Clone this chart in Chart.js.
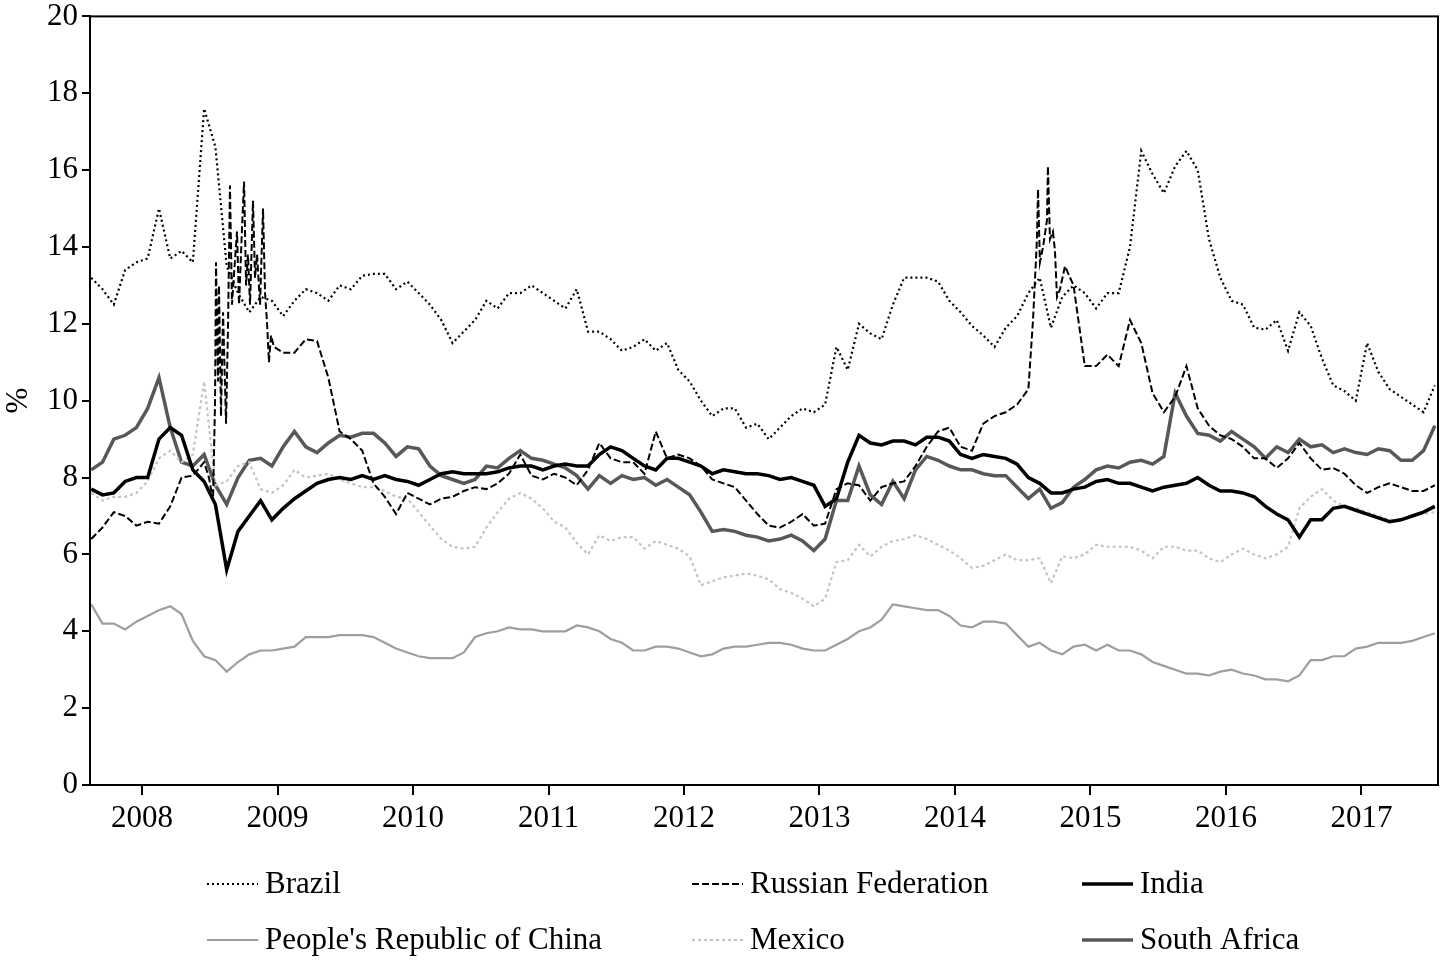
<!DOCTYPE html>
<html>
<head>
<meta charset="utf-8">
<script src="https://cdn.jsdelivr.net/npm/chart.js@4.4.1/dist/chart.umd.min.js"></script>
<style>
  html, body { margin: 0; padding: 0; background: #fff; }
  #wrap { width: 1444px; height: 963px; }
</style>
</head>
<body>
<div id="wrap"><canvas id="yields"></canvas></div>
<script>
// monthly observations, Aug 2007 .. Jul 2017 (one row = Aug..Jul)
const firstMonth = [2007, 8];
const monthCount = 120;

const brazil = [
    13.2, 12.9, 12.5, 13.4, 13.6, 13.7, 15.0, 13.7, 13.9, 13.6, 17.6, 16.6,
    13.5, 12.8, 12.3, 12.7, 12.6, 12.2, 12.6, 12.9, 12.8, 12.6, 13.0, 12.9,
    13.25, 13.3, 13.3, 12.9, 13.1, 12.8, 12.5, 12.1, 11.5, 11.8, 12.1, 12.6,
    12.4, 12.8, 12.8, 13.0, 12.8, 12.6, 12.4, 12.9, 11.8, 11.8, 11.6, 11.3,
    11.4, 11.6, 11.3, 11.5, 10.8, 10.5, 10.0, 9.6, 9.8, 9.8, 9.3, 9.4,
    9.0, 9.3, 9.6, 9.8, 9.7, 9.9, 11.4, 10.8, 12.0, 11.75, 11.6, 12.5,
    13.2, 13.2, 13.2, 13.1, 12.6, 12.3, 11.95, 11.7, 11.4, 11.9, 12.2, 12.8,
    13.2, 11.9, 12.7, 13.0, 12.8, 12.4, 12.8, 12.8, 14.0, 16.5, 15.9, 15.4,
    16.1, 16.5, 16.0, 14.2, 13.2, 12.6, 12.5, 11.9, 11.85, 12.1, 11.3, 12.3,
    11.95, 11.1, 10.4, 10.25, 10.0, 11.5, 10.75, 10.3, 10.1, 9.9, 9.7, 10.4
];

// null where the daily swings are given in russiaSpike* below
const russia = [
    6.4, 6.7, 7.1, 7.0, 6.75, 6.85, 6.8, 7.25, 8.0, 8.05, 8.4, null,
    null, null, null, null, null, 11.25, 11.25, 11.6, 11.55, 10.6, 9.2, 9.0,
    8.7, 7.85, 7.5, 7.05, 7.6, 7.45, 7.3, 7.45, 7.5, 7.65, 7.75, 7.7,
    7.85, 8.1, 8.6, 8.05, 7.95, 8.1, 8.0, 7.8, 8.2, 8.9, 8.5, 8.4,
    8.4, 8.1, 9.2, 8.5, 8.6, 8.5, 8.3, 7.95, 7.85, 7.75, 7.4, 7.05,
    6.75, 6.7, 6.85, 7.05, 6.75, 6.8, 7.7, 7.85, 7.8, 7.4, 7.75, 7.85,
    7.9, 8.3, 8.8, 9.2, 9.3, 8.8, 8.7, 9.4, 9.6, 9.7, 9.9, 10.3,
    null, null, null, 13.0, 10.9, 10.9, 11.2, 10.9, 12.1, 11.5, 10.2, 9.7,
    10.1, 10.9, 9.8, 9.35, 9.1, 9.0, 8.8, 8.5, 8.5, 8.25, 8.5, 8.9,
    8.5, 8.2, 8.25, 8.1, 7.8, 7.6, 7.75, 7.85, 7.75, 7.65, 7.65, 7.8
];
const russiaSpikeYears = [
    2008.494, 2008.524, 2008.539, 2008.546, 2008.561, 2008.568, 2008.583, 2008.598,
    2008.620, 2008.635, 2008.649, 2008.664, 2008.679, 2008.701, 2008.716, 2008.738,
    2008.753, 2008.768, 2008.782, 2008.797, 2008.819, 2008.834, 2008.849, 2008.871,
    2008.893, 2008.908, 2008.923, 2008.937, 2008.952, 2008.974,
    2014.576, 2014.605, 2014.613, 2014.627, 2014.650, 2014.679, 2014.686, 2014.701,
    2014.723, 2014.738, 2014.753, 2014.775, 2014.812
];
const russiaSpikeValues = [
    8.0, 7.4, 10.0, 13.6, 10.5, 13.0, 9.6, 12.3,
    9.4, 12.0, 15.6, 12.5, 13.3, 14.4, 12.5, 14.5,
    15.7, 13.0, 13.8, 12.5, 15.2, 13.2, 13.8, 12.5,
    15.0, 12.8, 12.0, 11.0, 11.7, 11.4,
    12.1, 14.2, 15.5, 13.6, 14.0, 14.7, 16.1, 14.2,
    14.4, 13.9, 12.7, 12.9, 13.5
];

const india = [
    7.7, 7.55, 7.6, 7.9, 8.0, 8.0, 9.0, 9.3, 9.1, 8.2, 7.9, 7.3,
    5.6, 6.6, 7.0, 7.4, 6.9, 7.2, 7.45, 7.65, 7.85, 7.95, 8.0, 7.95,
    8.05, 7.95, 8.05, 7.95, 7.9, 7.8, 7.95, 8.1, 8.15, 8.1, 8.1, 8.1,
    8.15, 8.25, 8.3, 8.3, 8.2, 8.3, 8.35, 8.3, 8.3, 8.6, 8.8, 8.7,
    8.5, 8.3, 8.2, 8.5, 8.5, 8.4, 8.3, 8.1, 8.2, 8.15, 8.1, 8.1,
    8.05, 7.95, 8.0, 7.9, 7.8, 7.25, 7.45, 8.4, 9.1, 8.9, 8.85, 8.95,
    8.95, 8.85, 9.05, 9.05, 8.95, 8.6, 8.5, 8.6, 8.55, 8.5, 8.35, 8.0,
    7.85, 7.6, 7.6, 7.7, 7.75, 7.9, 7.95, 7.85, 7.85, 7.75, 7.65, 7.75,
    7.8, 7.85, 8.0, 7.8, 7.65, 7.65, 7.6, 7.5, 7.25, 7.05, 6.9, 6.45,
    6.9, 6.9, 7.2, 7.25, 7.15, 7.05, 6.95, 6.85, 6.9, 7.0, 7.1, 7.25
];

const china = [
    4.7, 4.2, 4.2, 4.05, 4.25, 4.4, 4.55, 4.65, 4.45, 3.75, 3.35, 3.25,
    2.95, 3.2, 3.4, 3.5, 3.5, 3.55, 3.6, 3.85, 3.85, 3.85, 3.9, 3.9,
    3.9, 3.85, 3.7, 3.55, 3.45, 3.35, 3.3, 3.3, 3.3, 3.45, 3.85, 3.95,
    4.0, 4.1, 4.05, 4.05, 4.0, 4.0, 4.0, 4.15, 4.1, 4.0, 3.8, 3.7,
    3.5, 3.5, 3.6, 3.6, 3.55, 3.45, 3.35, 3.4, 3.55, 3.6, 3.6, 3.65,
    3.7, 3.7, 3.65, 3.55, 3.5, 3.5, 3.65, 3.8, 4.0, 4.1, 4.3, 4.7,
    4.65, 4.6, 4.55, 4.55, 4.4, 4.15, 4.1, 4.25, 4.25, 4.2, 3.9, 3.6,
    3.7, 3.5, 3.4, 3.6, 3.65, 3.5, 3.65, 3.5, 3.5, 3.4, 3.2, 3.1,
    3.0, 2.9, 2.9, 2.85, 2.95, 3.0, 2.9, 2.85, 2.75, 2.75, 2.7, 2.85,
    3.25, 3.25, 3.35, 3.35, 3.55, 3.6, 3.7, 3.7, 3.7, 3.75, 3.85, 3.95
];

const mexico = [
    7.6, 7.4, 7.5, 7.5, 7.6, 7.9, 8.5, 8.7, 8.4, 8.6, 10.5, 7.8,
    7.9, 8.3, 8.4, 7.7, 7.6, 7.8, 8.2, 8.0, 8.05, 8.1, 7.95, 7.85,
    7.75, 7.75, 7.65, 7.5, 7.45, 7.1, 6.75, 6.4, 6.2, 6.15, 6.2, 6.7,
    7.1, 7.45, 7.6, 7.45, 7.2, 6.85, 6.7, 6.3, 6.0, 6.5, 6.35, 6.45,
    6.45, 6.15, 6.35, 6.25, 6.15, 5.95, 5.2, 5.3, 5.4, 5.45, 5.5, 5.45,
    5.35, 5.1, 5.0, 4.85, 4.65, 4.85, 5.8, 5.85, 6.25, 5.95, 6.2, 6.35,
    6.4, 6.5, 6.4, 6.25, 6.1, 5.9, 5.65, 5.7, 5.85, 6.0, 5.85, 5.85,
    5.9, 5.25, 5.95, 5.9, 6.0, 6.25, 6.2, 6.2, 6.2, 6.1, 5.9, 6.2,
    6.2, 6.1, 6.1, 5.9, 5.8, 6.0, 6.15, 6.0, 5.9, 6.0, 6.2, 7.2,
    7.5, 7.7, 7.4, 7.25, 7.2, 7.1, 7.0, 6.9, 6.9, 7.0, 7.05, 7.1
];

const southAfrica = [
    8.2, 8.4, 9.0, 9.1, 9.3, 9.8, 10.6, 9.3, 8.4, 8.3, 8.6, 7.8,
    7.3, 8.0, 8.45, 8.5, 8.3, 8.8, 9.2, 8.8, 8.65, 8.9, 9.1, 9.05,
    9.15, 9.15, 8.9, 8.55, 8.8, 8.75, 8.3, 8.05, 7.95, 7.85, 7.95, 8.3,
    8.25, 8.5, 8.7, 8.5, 8.45, 8.35, 8.25, 8.05, 7.7, 8.05, 7.85, 8.05,
    7.95, 8.0, 7.8, 7.95, 7.75, 7.55, 7.1, 6.6, 6.65, 6.6, 6.5, 6.45,
    6.35, 6.4, 6.5, 6.35, 6.1, 6.4, 7.4, 7.4, 8.3, 7.55, 7.3, 7.9,
    7.45, 8.2, 8.55, 8.45, 8.3, 8.2, 8.2, 8.1, 8.05, 8.05, 7.75, 7.45,
    7.7, 7.2, 7.35, 7.75, 7.95, 8.2, 8.3, 8.25, 8.4, 8.45, 8.35, 8.55,
    10.2, 9.6, 9.15, 9.1, 8.95, 9.2, 9.0, 8.8, 8.5, 8.8, 8.65, 9.0,
    8.8, 8.85, 8.65, 8.75, 8.65, 8.6, 8.75, 8.7, 8.45, 8.45, 8.7, 9.35
];

const yTicks = [0, 2, 4, 6, 8, 10, 12, 14, 16, 18, 20];
const yearTicks = [2008, 2009, 2010, 2011, 2012, 2013, 2014, 2015, 2016, 2017];

// mid-month position of each observation, in decimal years
const monthX = [];
for (let i = 0; i < monthCount; i++) {
    const m = firstMonth[1] - 1 + i;
    monthX.push(firstMonth[0] + m / 12 + 1 / 24);
}

const toPoints = (values) => values
    .map((v, i) => ({ x: monthX[i], y: v }))
    .filter(p => p.y !== null);

const russiaPoints = toPoints(russia)
    .concat(russiaSpikeYears.map((x, i) => ({ x: x, y: russiaSpikeValues[i] })))
    .sort((a, b) => a.x - b.x);

const serif = '"Liberation Serif", "Times New Roman", serif';

const frame = {
    id: 'frame',
    afterDraw(chart) {
        const a = chart.chartArea;
        const ctx = chart.ctx;
        ctx.save();
        ctx.strokeStyle = '#000';
        ctx.lineWidth = 2;
        ctx.strokeRect(a.left, a.top, a.right - a.left, a.bottom - a.top);
        ctx.restore();
    }
};

// two rows of three, like the original figure
const gridLegend = {
    id: 'gridLegend',
    afterDraw(chart) {
        const ctx = chart.ctx;
        const cols = [207, 692, 1082];
        const rows = [884, 940];
        chart.data.datasets.forEach((ds, i) => {
            const x = cols[i % 3];
            const y = rows[Math.floor(i / 3)];
            ctx.save();
            ctx.strokeStyle = ds.borderColor;
            ctx.lineWidth = ds.borderWidth;
            ctx.setLineDash(ds.borderDash || []);
            ctx.beginPath();
            ctx.moveTo(x, y);
            ctx.lineTo(x + 51, y);
            ctx.stroke();
            ctx.setLineDash([]);
            ctx.fillStyle = '#000';
            ctx.font = '31px ' + serif;
            ctx.textBaseline = 'middle';
            ctx.fillText(ds.label, x + 58, y + 1);
            ctx.restore();
        });
    }
};

const line = (label, data, color, width, dash) => ({
    label: label,
    data: data,
    borderColor: color,
    borderWidth: width,
    borderDash: dash,
    pointRadius: 0,
    tension: 0,
    fill: false
});

new Chart(document.getElementById('yields'), {
    type: 'line',
    data: {
        datasets: [
            line('Brazil', toPoints(brazil), '#000', 2.2, [2, 3]),
            line('Russian Federation', russiaPoints, '#000', 2, [7, 3]),
            line('India', toPoints(india), '#000', 3.5, []),
            line("People's Republic of China", toPoints(china), '#9e9e9e', 2.2, []),
            line('Mexico', toPoints(mexico), '#c4c4c4', 2.2, [3, 3]),
            line('South Africa', toPoints(southAfrica), '#585858', 3.5, [])
        ]
    },
    options: {
        responsive: true,
        maintainAspectRatio: false,
        animation: false,
        layout: { padding: { left: 0, right: 6, top: 14, bottom: 0 } },
        plugins: {
            legend: { display: false },
            tooltip: { enabled: false }
        },
        scales: {
            x: {
                type: 'linear',
                min: 2007.616,
                max: 2017.565,
                afterFit: s => { s.height = 178; },
                afterBuildTicks: s => { s.ticks = yearTicks.map(v => ({ value: v })); },
                ticks: {
                    color: '#000',
                    font: { family: serif, size: 31 },
                    padding: 5,
                    maxRotation: 0,
                    autoSkip: false,
                    callback: v => String(v)
                },
                grid: { drawOnChartArea: false, color: '#000', lineWidth: 2, tickLength: 10 },
                border: { color: '#000', width: 2 }
            },
            y: {
                min: 0,
                max: 20,
                afterFit: s => { s.width = 90; },
                afterBuildTicks: s => { s.ticks = yTicks.map(v => ({ value: v })); },
                ticks: {
                    color: '#000',
                    font: { family: serif, size: 31, lineHeight: 0.8 },
                    padding: 4
                },
                grid: { drawOnChartArea: false, color: '#000', lineWidth: 2, tickLength: 8 },
                border: { color: '#000', width: 2 },
                title: {
                    display: true,
                    text: '%',
                    color: '#000',
                    font: { family: serif, size: 31 },
                    padding: 0
                }
            }
        }
    },
    plugins: [frame, gridLegend]
});
</script>
</body>
</html>
